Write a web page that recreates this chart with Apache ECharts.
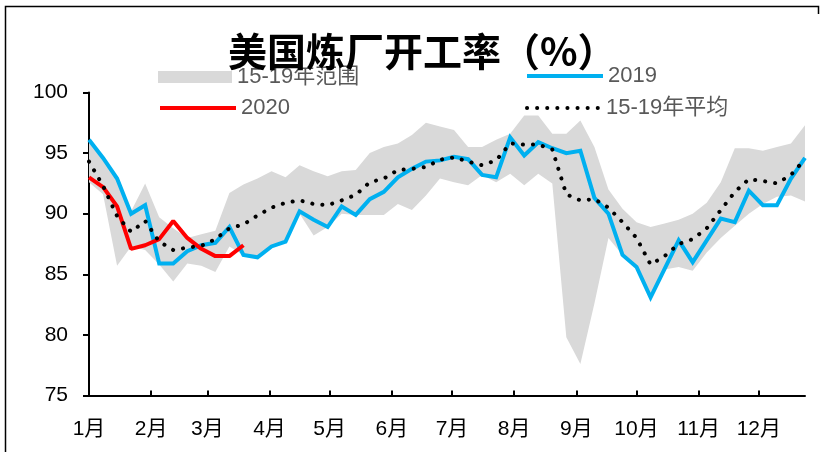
<!DOCTYPE html>
<html>
<head>
<meta charset="utf-8">
<script src="https://cdn.jsdelivr.net/npm/echarts@6/dist/echarts.min.js"></script>
<style>
  html, body { margin: 0; padding: 0; background: #fff; }
  #chart { width: 827px; height: 452px; }
</style>
</head>
<body>
<div id="chart"></div>
<script>
// Month tick labels and the day-of-year each month starts on
const monthLabels = ['1月', '2月', '3月', '4月', '5月', '6月', '7月', '8月', '9月', '10月', '11月', '12月'];
const monthStartDays = [0, 31, 59, 90, 120, 151, 181, 212, 243, 273, 304, 334];

// Weekly observations: week i sits at day 7*i of the year
const weekCount = 52;
const weekDays = Array.from({ length: weekCount }, (_, i) => i * 7);

// 2015-2019 weekly range (max / min), %
const range1519Max = [96.1, 94.6, 92.9, 90.2, 92.5, 89.7, 88.8, 88.0, 88.3, 88.6,
  91.7, 92.4, 92.9, 93.5, 93.0, 94.0, 93.5, 93.1, 93.5, 93.6,
  95.0, 95.5, 95.8, 96.5, 97.5, 97.2, 96.9, 95.5, 95.5, 96.1,
  96.6, 98.1, 98.1, 96.6, 96.6, 97.7, 95.5, 92.0, 90.4, 89.3,
  88.9, 89.2, 89.5, 90.0, 90.9, 92.6, 95.4, 95.4, 95.2, 95.5,
  95.8, 97.3];
const range1519Min = [92.6, 91.6, 85.7, 87.3, 87.0, 85.8, 84.4, 85.9, 85.7, 85.2,
  87.3, 86.6, 86.4, 87.3, 87.7, 90.0, 88.2, 88.9, 90.0, 89.9,
  89.9, 89.9, 90.8, 90.3, 91.5, 92.9, 92.6, 92.35, 93.2, 92.6,
  93.3, 92.35, 93.3, 92.5, 79.8, 77.6, 82.6, 88.0, 86.6, 85.6,
  83.1, 85.4, 85.6, 85.3, 86.8, 88.0, 89.0, 90.0, 90.8, 91.4,
  91.5, 91.0];

// 2015-2019 weekly average, %
const avg1519 = [94.3, 92.3, 89.8, 88.5, 89.4, 87.7, 87.0, 87.2, 87.35, 87.9,
  88.8, 89.1, 89.85, 90.5, 90.9, 91.1, 90.8, 90.7, 91.1, 91.55,
  92.6, 92.9, 93.6, 93.7, 93.85, 94.45, 94.65, 94.3, 94.0, 94.4,
  95.8, 95.7, 95.7, 95.3, 91.6, 91.1, 91.2, 90.5, 89.3, 88.0,
  85.8, 86.5, 87.5, 87.9, 88.8, 90.3, 91.8, 92.85, 92.7, 92.5,
  93.2, 94.5];

// 2019 weekly utilisation, %
const util2019 = [96.1, 94.6, 92.9, 90.0, 90.7, 85.9, 85.9, 86.9, 87.4, 87.6,
  88.9, 86.6, 86.4, 87.3, 87.7, 90.2, 89.5, 88.9, 90.6, 89.9,
  91.2, 91.8, 93.0, 93.7, 94.3, 94.4, 94.7, 94.5, 93.2, 93.0,
  96.3, 94.8, 95.9, 95.4, 95.0, 95.2, 91.3, 90.0, 86.6, 85.6,
  83.1, 85.45, 87.8, 86.0, 87.8, 89.6, 89.3, 91.9, 90.7, 90.7,
  92.9, 94.6];

// 2020 weekly utilisation so far, %
const util2020 = [93.0, 92.2, 90.6, 87.1, 87.4, 87.9, 89.4, 88.0, 87.1, 86.5, 86.5, 87.4];

const pairs = (vals) => vals.map((v, i) => [weekDays[i], v]);

const labelFont = "'Liberation Sans', 'Noto Sans CJK SC', sans-serif";
const legendText = { color: '#595959', fontSize: 22, fontFamily: labelFont };
const legendBase = {
  padding: 0, selectedMode: false, textStyle: legendText, itemGap: 0,
  itemStyle: { opacity: 0, borderWidth: 0 }
};

const chart = echarts.init(document.getElementById('chart'));
chart.setOption({
  animation: false,
  backgroundColor: '#fff',
  title: {
    text: '美国炼厂开工率（%）',
    left: 228,
    top: 32,
    padding: 0,
    textStyle: { fontSize: 39, fontWeight: 'bold', color: '#000', fontFamily: "'Noto Sans CJK SC', sans-serif" }
  },
  legend: [
    Object.assign({}, legendBase, {
      left: 158, top: 66, itemWidth: 74, itemHeight: 12,
      itemStyle: { opacity: 1, color: '#D9D9D9', borderWidth: 0 },
      data: [{ name: '15-19年范围', icon: 'rect' }]
    }),
    Object.assign({}, legendBase, {
      left: 525, top: 65, itemWidth: 76, itemHeight: 12,
      lineStyle: { width: 4, color: '#00B0F0' },
      data: ['2019']
    }),
    Object.assign({}, legendBase, {
      left: 158, top: 97, itemWidth: 76, itemHeight: 12,
      lineStyle: { width: 4, color: '#FF0000' },
      data: ['2020']
    }),
    Object.assign({}, legendBase, {
      left: 525, top: 97, itemWidth: 74, itemHeight: 12,
      lineStyle: { width: 4, color: '#000', type: [0.1, 10], cap: 'round' },
      data: ['15-19年平均']
    })
  ],
  grid: { left: 89, right: 22, top: 92.5, bottom: 56.5 },
  xAxis: {
    type: 'value',
    min: 0,
    max: 357,
    axisLine: { show: true, lineStyle: { color: '#000', width: 2 } },
    axisTick: { show: true, inside: true, length: 5, customValues: monthStartDays, lineStyle: { color: '#000', width: 2 } },
    axisLabel: {
      customValues: monthStartDays,
      formatter: (v) => monthLabels[monthStartDays.indexOf(v)],
      color: '#000', fontSize: 21, margin: 23, fontFamily: labelFont
    },
    splitLine: { show: false }
  },
  yAxis: {
    type: 'value',
    min: 75,
    max: 100,
    interval: 5,
    axisLine: { show: true, lineStyle: { color: '#000', width: 2 } },
    axisTick: { show: true, inside: false, length: 6, lineStyle: { color: '#000', width: 2 } },
    axisLabel: { color: '#000', fontSize: 21, margin: 21, fontFamily: labelFont },
    splitLine: { show: false }
  },
  graphic: [{
    type: 'polyline',
    silent: true,
    shape: { points: [[818.5, 14], [818.5, 6.5], [5.5, 6.5], [5.5, 452]] },
    style: { stroke: '#000', fill: null, lineWidth: 1.5 }
  }],
  series: [
    {
      name: '15-19年范围',
      type: 'custom',
      z: 1,
      itemStyle: { color: '#D9D9D9' },
      data: weekDays.map((d, i) => [d, range1519Min[i], range1519Max[i]]),
      encode: { x: 0, y: [1, 2] },
      renderItem: function (params, api) {
        if (params.dataIndex !== 0) return null;
        const upper = weekDays.map((d, i) => api.coord([d, range1519Max[i]]));
        const lower = weekDays.map((d, i) => api.coord([d, range1519Min[i]])).reverse();
        return {
          type: 'polygon',
          shape: { points: upper.concat(lower) },
          style: { fill: '#D9D9D9' }
        };
      }
    },
    {
      name: '2019',
      type: 'line',
      z: 3,
      data: pairs(util2019),
      symbol: 'none',
      itemStyle: { color: '#00B0F0' },
      lineStyle: { color: '#00B0F0', width: 4, join: 'miter' }
    },
    {
      name: '2020',
      type: 'line',
      z: 4,
      data: pairs(util2020),
      symbol: 'none',
      itemStyle: { color: '#FF0000' },
      lineStyle: { color: '#FF0000', width: 4 }
    },
    {
      name: '15-19年平均',
      type: 'line',
      z: 5,
      data: pairs(avg1519),
      symbol: 'none',
      itemStyle: { color: '#000' },
      lineStyle: { color: '#000', width: 4, type: [0.1, 10], cap: 'round' }
    }
  ]
});
</script>
</body>
</html>
